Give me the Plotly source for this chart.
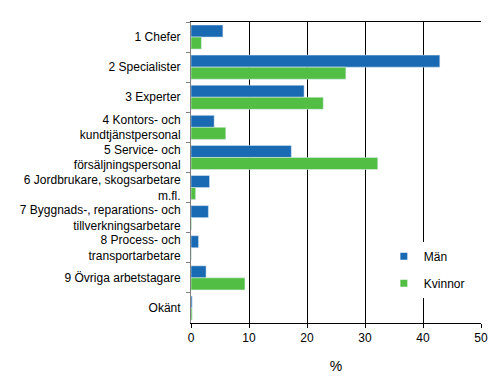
import plotly.graph_objects as go

categories = ["1 Chefer", "2 Specialister", "3 Experter", "4 Kontors- och<br>kundtjänstpersonal",
              "5 Service- och<br>försäljningspersonal", "6 Jordbrukare, skogsarbetare<br>m.fl.",
              "7 Byggnads-, reparations- och<br>tillverkningsarbetare", "8 Process- och<br>transportarbetare",
              "9 Övriga arbetstagare", "Okänt"]
man = [5.5, 42.9, 19.5, 4.0, 17.3, 3.2, 3.0, 1.3, 2.6, 0.2]
kvinnor = [1.8, 26.7, 22.8, 6.0, 32.2, 0.8, 0.1, 0.05, 9.3, 0.2]
x_ticks = [0, 10, 20, 30, 40, 50]
c_man = "#1a6ab3"
c_kv = "#52bf44"

fig = go.Figure()
fig.add_trace(go.Bar(y=categories, x=man, name="Män", orientation="h", marker_color=c_man, showlegend=False))
fig.add_trace(go.Bar(y=categories, x=kvinnor, name="Kvinnor", orientation="h", marker_color=c_kv, showlegend=False))
fig.add_trace(go.Scatter(x=[None], y=[None], mode="markers", name="Män", legendgroup="a",
                         marker=dict(symbol="square", size=7, color=c_man)))
fig.add_trace(go.Scatter(x=[None], y=[None], mode="markers", name="Kvinnor", legendgroup="b",
                         marker=dict(symbol="square", size=7, color=c_kv)))

# body has an 8px default margin in the page; compensate
fig.update_layout(
    width=492, height=375,
    margin=dict(l=183, r=16, t=14, b=59),
    barmode="group", bargap=0.2, bargroupgap=0,
    paper_bgcolor="white", plot_bgcolor="white",
    font=dict(family="Liberation Sans, Arial, sans-serif", size=12, color="black"),
    showlegend=True,
    legend=dict(x=0.665, y=0.27, xanchor="left", yanchor="top", bgcolor="white",
                font=dict(size=12), tracegroupgap=8, itemwidth=30),
)
fig.update_xaxes(range=[0, 50], tickvals=x_ticks, showgrid=True, gridcolor="black", gridwidth=1,
                 showline=True, linecolor="black", linewidth=1, mirror=True,
                 ticks="outside", ticklen=4, tickcolor="black",
                 title=dict(text="%", standoff=16), zeroline=False)
fig.update_yaxes(autorange="reversed", showline=True, linecolor="#808080", linewidth=1,
                 ticks="outside", ticklen=4, tickcolor="#808080", tickson="boundaries",
                 showgrid=False, ticklabelstandoff=7)
fig.write_html("out.html")
